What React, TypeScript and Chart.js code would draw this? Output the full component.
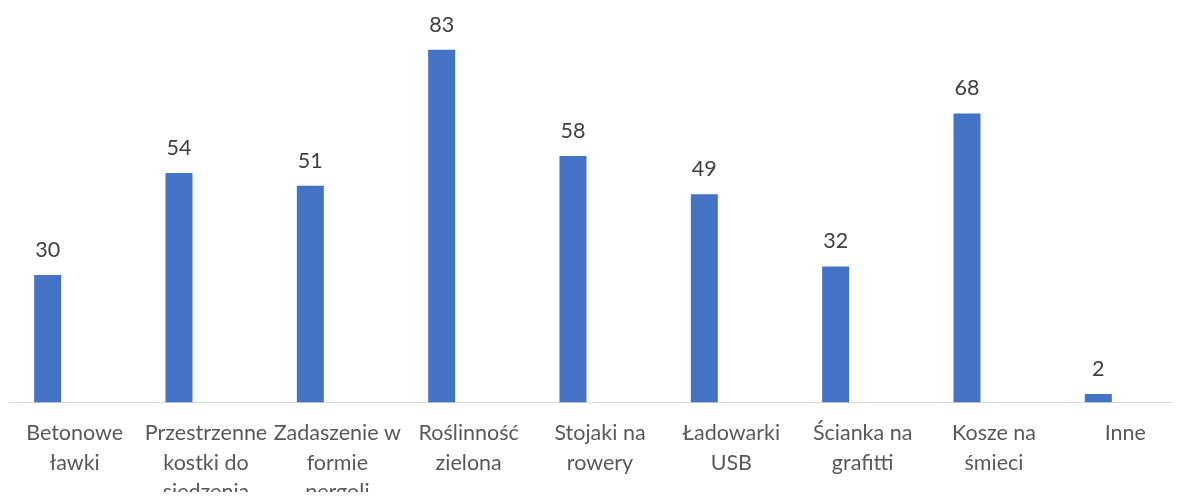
import React, { useEffect, useRef } from "react";
import { Chart, registerables } from "chart.js";

Chart.register(...registerables);

const categories: (string | string[])[] = [
  ["Betonowe", "ławki"],
  ["Przestrzenne", "kostki do", "siedzenia"],
  ["Zadaszenie w", "formie", "pergoli"],
  ["Roślinność", "zielona"],
  ["Stojaki na", "rowery"],
  ["Ładowarki", "USB"],
  ["Ścianka na", "grafitti"],
  ["Kosze na", "śmieci"],
  "Inne",
];
const values: number[] = [30, 54, 51, 83, 58, 49, 32, 68, 2];
const emptySeries: (number | null)[] = [null, null, null, null, null, null, null, null, null];

const FONT = "Lato, 'Open Sans', sans-serif";

const valueLabels = {
  id: "valueLabels",
  afterDatasetsDraw(chart: any) {
    const ctx = chart.ctx;
    const meta = chart.getDatasetMeta(0);
    ctx.save();
    ctx.fillStyle = "#404040";
    ctx.font = `21.5px ${FONT}`;
    ctx.textAlign = "center";
    ctx.textBaseline = "middle";
    meta.data.forEach((bar: any, i: number) => {
      ctx.fillText(String(values[i]), bar.x, bar.y - 25);
    });
    ctx.restore();
  },
};

export default function App() {
  const ref = useRef<HTMLCanvasElement>(null);
  useEffect(() => {
    if (!ref.current) return;
    const chart = new Chart(ref.current, {
      type: "bar",
      data: {
        labels: categories,
        datasets: [
          { data: values, backgroundColor: "#4472C4", barPercentage: 1, categoryPercentage: 0.617 },
          { data: emptySeries, backgroundColor: "#ED7D31", barPercentage: 1, categoryPercentage: 0.617 },
          { data: emptySeries, backgroundColor: "#A5A5A5", barPercentage: 1, categoryPercentage: 0.617 },
        ],
      },
      options: {
        responsive: false,
        animation: false,
        layout: { padding: { left: 9, right: 0, top: 20, bottom: 0 } },
        plugins: { legend: { display: false }, tooltip: { enabled: false } },
        scales: {
          x: {
            grid: { display: false, drawTicks: false },
            border: { display: true, color: "#D9D9D9", width: 1 },
            ticks: {
              color: "#595959",
              font: { family: FONT, size: 21.5, lineHeight: "29.5px" } as any,
              padding: 16,
              maxRotation: 0,
              autoSkip: false,
            },
          },
          y: {
            display: false,
            min: 0,
            max: 90,
          },
        },
      },
      plugins: [valueLabels],
    });
    return () => chart.destroy();
  }, []);
  return (
    <div style={{ margin: -8, width: 1180, height: 500, overflow: "hidden", position: "relative", background: "#fff" }}>
      <canvas ref={ref} width={1191} height={523} style={{ width: 1191, height: 523, display: "block" }} />
    </div>
  );
}
